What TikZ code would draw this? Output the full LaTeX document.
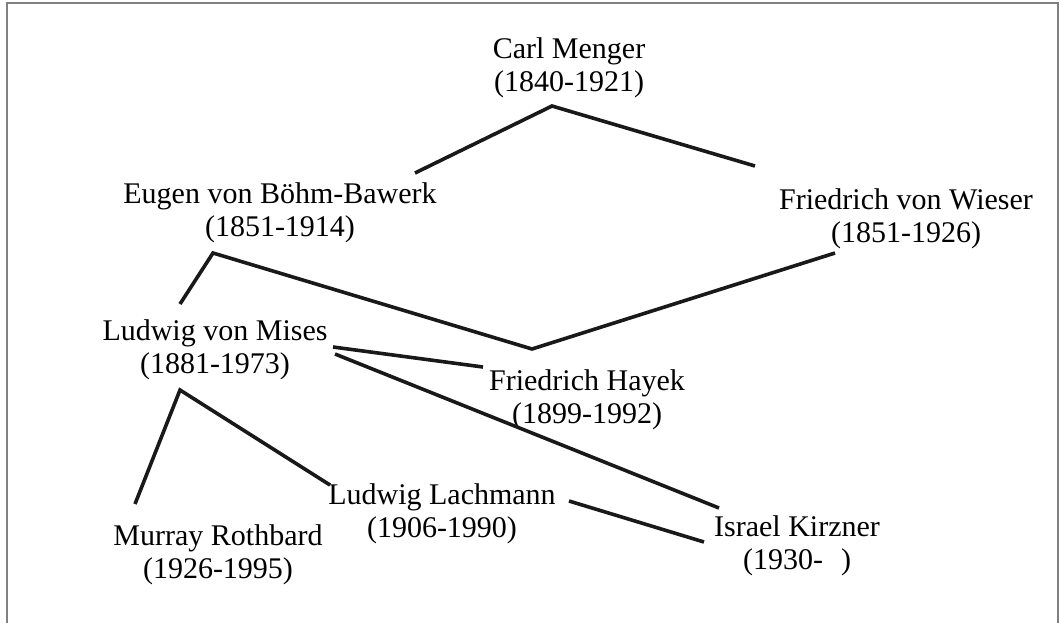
\documentclass[tikz,border=0pt]{standalone}
\usepackage{fontspec}
\setmainfont{Liberation Serif}
\begin{document}
\begin{tikzpicture}[x=1pt, y=-1pt, pnode/.style={align=center, inner sep=0pt, font=\fontsize{30}{33}\selectfont}, link/.style={line width=3.6pt, black!90}, frame/.style={line width=2.5pt, black!50}]
    \useasboundingbox (0,0) rectangle (1060,622);
    \draw[frame] (7,640) -- (7,3) -- (1058,3) -- (1058,640);

    \node[pnode] (menger) at (569, 68) {Carl Menger\\(1840-1921)};
    \node[pnode] (bohm) at (280, 213) {Eugen von B\"ohm-Bawerk\\(1851-1914)};
    \node[pnode] (wieser) at (906, 219) {Friedrich von Wieser\\(1851-1926)};
    \node[pnode] (mises) at (215, 350) {Ludwig von Mises\\(1881-1973)};
    \node[pnode] (hayek) at (587, 400) {Friedrich Hayek\\(1899-1992)};
    \node[pnode] (lachmann) at (442, 514) {Ludwig Lachmann\\(1906-1990)};
    \node[pnode] (rothbard) at (218, 555) {Murray Rothbard\\(1926-1995)};
    \node[pnode] (kirzner) at (797, 546) {Israel Kirzner\\(1930-\hspace{0.6em})};

    \coordinate (mengerfork) at (552, 106);
    \coordinate (bohmtop) at (415, 173);
    \coordinate (wiesertop) at (755, 166);
    \coordinate (bohmfork) at (213, 253);
    \coordinate (misestop) at (180, 304);
    \coordinate (hayekfork) at (532, 349);
    \coordinate (wieserlow) at (835, 253);
    \coordinate (misesA) at (333, 347);
    \coordinate (hayekleft) at (483, 367);
    \coordinate (misesB) at (335, 354);
    \coordinate (kirznertop) at (719, 508);
    \coordinate (misesfork) at (180, 390);
    \coordinate (rothbardtop) at (135, 504);
    \coordinate (lachmannleft) at (330, 485);
    \coordinate (lachmannright) at (569, 501);
    \coordinate (kirznerleft) at (704, 542);

    \draw[link] (bohmtop) -- (mengerfork) -- (wiesertop);
    \draw[link] (misestop) -- (bohmfork) -- (hayekfork) -- (wieserlow);
    \draw[link] (misesA) -- (hayekleft);
    \draw[link] (misesB) -- (kirznertop);
    \draw[link] (rothbardtop) -- (misesfork) -- (lachmannleft);
    \draw[link] (lachmannright) -- (kirznerleft);
\end{tikzpicture}
\end{document}
